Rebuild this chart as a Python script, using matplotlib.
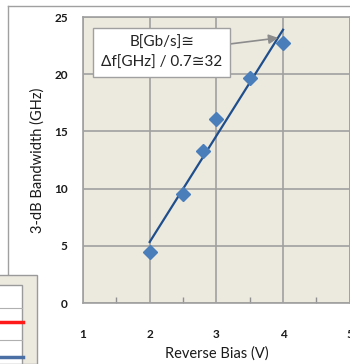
import matplotlib
matplotlib.use("Agg")
import matplotlib.pyplot as plt
from matplotlib.patches import Rectangle
from matplotlib.lines import Line2D
import numpy as np

# data
bias_v = [2.0, 2.5, 2.8, 3.0, 3.5, 4.0]
bw_ghz = [4.5, 9.5, 13.3, 16.1, 19.7, 22.7]
x_ticks = [1, 2, 3, 4, 5]
y_ticks = [0, 5, 10, 15, 20, 25]
note = "B[Gb/s]\u2245\n\u0394f[GHz] / 0.7\u224532"

W, H = 350, 364
FONT = ["Lato", "DejaVu Sans"]
plt.rcParams["font.family"] = FONT


def fpx(x, y):
    # pixel (from top-left) -> figure fraction
    return x / W, 1 - y / H


def main():
    fig = plt.figure(figsize=(W / 100, H / 100), dpi=100)
    fig.patch.set_facecolor("white")

    # chart frame (cut off by the screenshot)
    fig.add_artist(Line2D([8 / W, 8 / W], [1 - 6 / H, 1 - 275 / H],
                          transform=fig.transFigure, color="#a0a0a0", lw=1))
    fig.add_artist(Line2D([8 / W, 1], [1 - 6 / H, 1 - 6 / H],
                          transform=fig.transFigure, color="#a0a0a0", lw=1))

    # piece of another chart overlapping bottom-left
    x0, y0 = fpx(-2, 364)
    fig.add_artist(Rectangle((x0, y0), 39 / W, 89 / H, transform=fig.transFigure,
                             fc="#ece9df", ec="#9a9a9a", lw=1, zorder=5))
    fig.add_artist(Rectangle((x0, y0), 24 / W, 79 / H, transform=fig.transFigure,
                             fc="white", ec="#9a9a9a", lw=1, zorder=6))
    for yy in (308, 340):
        fig.add_artist(Line2D([0, 22 / W], [1 - yy / H] * 2, transform=fig.transFigure,
                              color="#b0b0b0", lw=0.8, zorder=7))
    fig.add_artist(Line2D([0, 23 / W], [1 - 322 / H] * 2, transform=fig.transFigure,
                          color="#ff1a1a", lw=2.5, zorder=8))
    fig.add_artist(Line2D([0, 23 / W], [1 - 357 / H] * 2, transform=fig.transFigure,
                          color="#4a6fa5", lw=2.5, zorder=8))

    left, bottom = fpx(83, 303)
    right, top = fpx(349.7, 17)
    ax = fig.add_axes([left, bottom, right - left, top - bottom])
    ax.set_facecolor("#ece9df")
    ax.set_xlim(1, 5)
    ax.set_ylim(0, 25)
    ax.set_xticks(x_ticks)
    ax.set_yticks(y_ticks)
    ax.set_xticks([1.5, 2.5, 3.5, 4.5], minor=True)
    ax.grid(True, which="major", color="#a0a0a0", lw=1.2)
    ax.set_axisbelow(True)
    for s in ax.spines.values():
        s.set_color("#a0a0a0")
        s.set_linewidth(1.2)
    ax.tick_params(axis="x", which="major", length=0, pad=19, labelsize=8.5)
    ax.tick_params(axis="x", which="minor", direction="in", length=4,
                   color="#909090", width=1)
    ax.tick_params(axis="y", which="major", length=0, pad=11, labelsize=8.5)
    for lab in ax.get_xticklabels() + ax.get_yticklabels():
        lab.set_fontweight("bold")
        lab.set_color("#1a1a1a")

    # trend line
    k, b = np.polyfit(bias_v, bw_ghz, 1)
    xs = np.array([bias_v[0], bias_v[-1]])
    ax.plot(xs, k * xs + b, color="#1f4e8c", lw=1.6, zorder=3)
    ax.plot(bias_v, bw_ghz, ls="none", marker="D", ms=7.5,
            color="#4a7ebb", zorder=4)

    ax.set_xlabel("Reverse Bias (V)", fontsize=10.5, color="#1a1a1a", labelpad=4)
    ax.set_ylabel("3-dB Bandwidth (GHz)", fontsize=10.5, color="#1a1a1a", labelpad=7)

    ax.annotate(note, xy=(3.97, 23.2), xytext=(2.18, 21.9),
                ha="center", va="center", fontsize=11, color="#222222",
                linespacing=1.55,
                bbox=dict(boxstyle="square,pad=0.5", fc="white", ec="#a0a0a0", lw=1),
                arrowprops=dict(arrowstyle="-|>", color="#8c8c8c", lw=1.2,
                                mutation_scale=14, shrinkA=0, shrinkB=2))

    fig.savefig("out.png", dpi=100)


if __name__ == "__main__":
    main()
